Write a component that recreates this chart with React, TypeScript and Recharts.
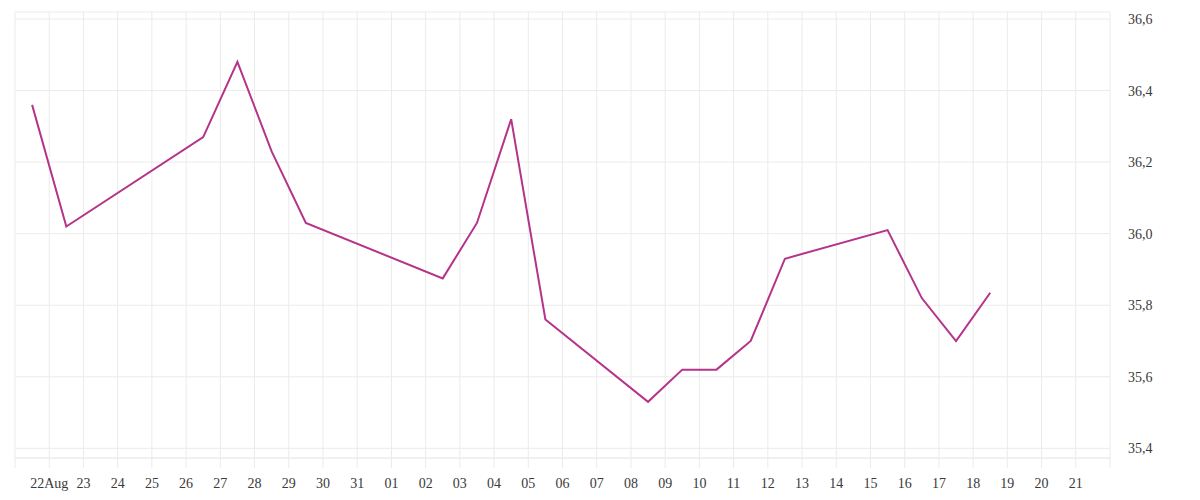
import { CartesianGrid, Line, LineChart, XAxis, YAxis } from "recharts";

// day offsets from 22 Aug (readings sit at mid-day)
const dayOffsets = [
  -0.5, 0.5, 4.5, 5.5, 6.5, 7.5, 11.5, 12.5, 13.5, 14.5, 17.5, 18.5, 19.5,
  20.5, 21.5, 24.5, 25.5, 26.5, 27.5,
];
const temperatures = [
  36.36, 36.02, 36.27, 36.48, 36.23, 36.03, 35.875, 36.03, 36.32, 35.76,
  35.53, 35.62, 35.62, 35.7, 35.93, 36.01, 35.82, 35.7, 35.835,
];
const tickLabels = [
  "22Aug", "23", "24", "25", "26", "27", "28", "29", "30", "31", "01", "02",
  "03", "04", "05", "06", "07", "08", "09", "10", "11", "12", "13", "14", "15",
  "16", "17", "18", "19", "20", "21",
];
const yTicks = [35.4, 35.6, 35.8, 36.0, 36.2, 36.4, 36.6];

const data = dayOffsets.map((x, i) => ({ x, value: temperatures[i] }));
const xTicks = Array.from({ length: tickLabels.length + 2 }, (_, i) => i - 1);

const GRID = "#ebebeb";
const tickStyle = {
  fill: "#3a3a3a",
  fontSize: 14,
  fontFamily: "Liberation Serif",
};

function App() {
  return (
    <LineChart
      width={1184}
      height={484}
      data={data}
      margin={{ top: 4, right: 0, left: 7, bottom: 0 }}
    >
      <CartesianGrid stroke={GRID} />
      <XAxis
        type="number"
        dataKey="x"
        domain={[-1, 31]}
        ticks={xTicks}
        interval={0}
        tickFormatter={(v: number) => tickLabels[v] ?? ""}
        axisLine={{ stroke: GRID }}
        tickLine={{ stroke: GRID }}
        tickSize={10}
        tickMargin={10}
        height={34}
        tick={tickStyle}
      />
      <YAxis
        orientation="right"
        domain={[35.373, 36.6196]}
        ticks={yTicks}
        allowDataOverflow
        tickFormatter={(v: number) => v.toFixed(1).replace(".", ",")}
        axisLine={false}
        tickLine={false}
        tickSize={0}
        tickMargin={18}
        width={82}
        tick={{ ...tickStyle, textAnchor: "start" }}
      />
      <Line
        type="linear"
        dataKey="value"
        stroke="#b5338a"
        strokeWidth={2}
        dot={false}
        isAnimationActive={false}
      />
    </LineChart>
  );
}

export default App;
